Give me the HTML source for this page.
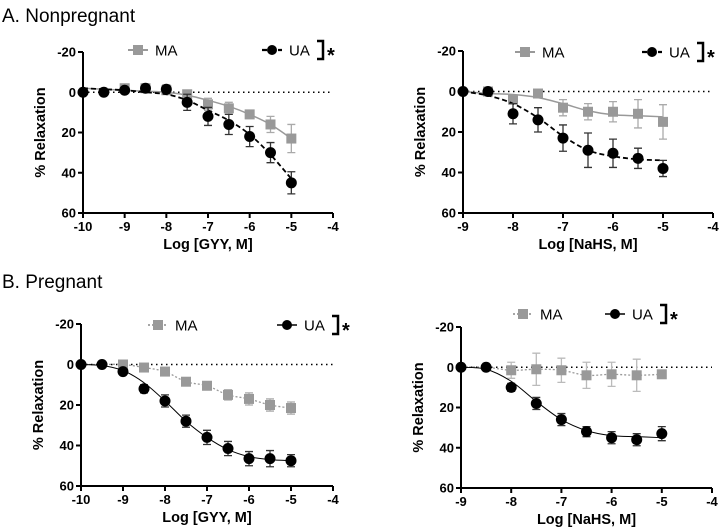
<!DOCTYPE html>
<html><head><meta charset="utf-8">
<style>
body{margin:0;background:#fff;}
svg{display:block;font-family:"Liberation Sans",Arial,sans-serif;}
</style></head>
<body>
<svg id="fig" width="723" height="531" viewBox="0 0 723 531">
<text x="2" y="22" font-size="19">A. Nonpregnant</text>
<text x="2" y="288" font-size="19">B. Pregnant</text>
</svg>
<script>
// Shared data
const xsGYY = [-10,-9.5,-9,-8.5,-8,-7.5,-7,-6.5,-6,-5.5,-5];
const xsNaHS = [-9,-8.5,-8,-7.5,-7,-6.5,-6,-5.5,-5];
const yTicks = [-20,0,20,40,60];
const yTickLabels = ["-20","0","20","40","60"];
// Panel A-left (GYY, nonpregnant)
const aL_MA = [0,0,-2,-2,-1,1,6,8,11,16,23];
const aL_MAerr = [0,0,1,1,2,2,3,3,2,4,7];
const aL_MAfit = [-2,-1.5,-1,-0.5,0,1.5,4,7,11,16,23];
const aL_UA = [0,0,-1,-2,-1.5,5,12,16,22,30,45];
const aL_UAerr = [0,0,1,1,2,4,4.5,5,5,5,5.5];
const aL_UAfit = [-2,-1.5,-1,0,1,4,9,14,21,31,43];
// Panel A-right (NaHS, nonpregnant)
const aR_MA = [0,0,4,1,8,10,10,11,15];
const aR_MAerr = [0,1,2,1,4,4,5,7,8.5];
const aR_MAfit = [0,1,1.5,3,6,9.5,11.5,12,12.5];
const aR_UA = [0,0,11,14,23,29,30.5,33,38];
const aR_UAerr = [0,1,5,6,6.5,8.5,7,5,4];
const aR_UAfit = [0,2,6,13,22,29,32,33.5,34];
// Panel B-left (GYY, pregnant)
const bL_MA = [0,0,0,1.5,3.5,8.5,10.5,15,17,20,21.5];
const bL_MAerr = [0,0,1,1,1,1.5,2,2.5,3,3,3];
const bL_UA = [0,0,3.5,12,18,28,36,41.5,46.5,46.5,47.5];
const bL_UAerr = [0,0,1,2,3,3,3.5,3.5,3.5,4,3];
const bL_UAfit = [0,0.5,3,9,18,28,36,42,45.5,47,47.5];
// Panel B-right (NaHS, pregnant)
const bR_MA = [0,0,1.5,1,1.5,4,3.5,4,3.5];
const bR_MAerr = [0,1,4,8,6,6.5,6,8,1.5];
const bR_UA = [0,0,10,18,26,32,35,36,33];
const bR_UAerr = [0,1,2,3,3,2.5,3,3,3.5];
const bR_UAfit = [0,1,7,17,26,31.5,34,34.5,35];

const NS="http://www.w3.org/2000/svg";
const svg=document.getElementById('fig');
function mk(tag,attrs,parent){const e=document.createElementNS(NS,tag);for(const k in attrs)e.setAttribute(k,attrs[k]);(parent||svg).appendChild(e);return e;}
function smooth(pts){let d="M"+pts[0][0]+","+pts[0][1];for(let i=0;i<pts.length-1;i++){const p0=pts[i-1]||pts[i],p1=pts[i],p2=pts[i+1],p3=pts[i+2]||p2;d+=" C"+(p1[0]+(p2[0]-p0[0])/6)+","+(p1[1]+(p2[1]-p0[1])/6)+" "+(p2[0]-(p3[0]-p1[0])/6)+","+(p2[1]-(p3[1]-p1[1])/6)+" "+p2[0]+","+p2[1];}return d;}

function panel(o){
  const g=mk('g',{});
  
  
  const sx=v=>o.x0+(v-o.xmin)/(o.xmax-o.xmin)*(o.x1-o.x0);
  const sy=v=>o.y0+(v+20)/80*(o.y1-o.y0);
  // zero line
  const z=mk('line',{x1:sx(o.xmin),x2:sx(o.xmax),y1:sy(0),y2:sy(0),stroke:'#000','stroke-width':1.6,'stroke-dasharray':'1.5,3.5'},g);
  
  
  // axes
  const ya=mk('line',{x1:o.x0,x2:o.x0,y1:o.y0,y2:o.y1,stroke:'#000','stroke-width':2},g);
  
  
  const xa=mk('line',{x1:o.x0,x2:o.x1,y1:o.y1,y2:o.y1,stroke:'#000','stroke-width':2},g);
  
  
  yTicks.forEach((t,i)=>{
    mk('line',{x1:o.x0-5,x2:o.x0,y1:sy(t),y2:sy(t),stroke:'#000','stroke-width':2},g);
    const tx=mk('text',{x:o.x0-7,y:sy(t)+4.5,'text-anchor':'end','font-size':13,'font-weight':'bold'},g);
    tx.textContent=yTickLabels[i];
    
    
  });
  for(let v=o.xmin;v<=o.xmax;v++){
    mk('line',{x1:sx(v),x2:sx(v),y1:o.y1,y2:o.y1+5,stroke:'#000','stroke-width':2},g);
    const tx=mk('text',{x:sx(v),y:o.y1+18,'text-anchor':'middle','font-size':13,'font-weight':'bold'},g);
    tx.textContent=String(v);
    
    
  }
  const xt=mk('text',{x:(o.x0+o.x1)/2,y:o.y1+36,'text-anchor':'middle','font-size':14.5,'font-weight':'bold'},g);
  xt.textContent=o.xlabel;
  
  
  const cy=(o.y0+o.y1)/2, cx=o.x0-38;
  const yt=mk('text',{x:cx,y:cy,'text-anchor':'middle','font-size':14.5,'font-weight':'bold',transform:`rotate(-90 ${cx} ${cy})`},g);
  yt.textContent='% Relaxation';
  
  
  // series
  o.series.forEach(s=>{
    if(s.fit){
      const p=mk('path',{d:smooth(o.xs.map((x,i)=>[sx(x),sy(s.fit[i])])),fill:'none',stroke:s.color,'stroke-width':s.lw,'stroke-dasharray':s.dash||''},g);
      
      
    }
    s.vals.forEach((v,i)=>{
      if(s.skip&&s.skip.includes(i))return;
      const x=sx(o.xs[i]),e=s.err[i];
      if(e>0){
        const eb=mk('path',{d:`M${x},${sy(v-e)}V${sy(v+e)}M${x-4},${sy(v-e)}H${x+4}M${x-4},${sy(v+e)}H${x+4}`,stroke:s.errColor,'stroke-width':1.3,fill:'none'},g);
        
        
      }
    });
    s.vals.forEach((v,i)=>{
      if(s.skip&&s.skip.includes(i))return;
      const x=sx(o.xs[i]),y=sy(v);
      let m;
      if(s.marker==='sq') m=mk('rect',{x:x-5,y:y-5,width:10,height:10,fill:s.color},g);
      else m=mk('circle',{cx:x,cy:y,r:5.5,fill:s.color},g);
      
      
    });
  });
  // legend
  o.series.forEach((s,k)=>{
    const lx=o.leg[k], ly=o.legY;
    const ll=mk('line',{x1:lx-10,x2:lx+10,y1:ly,y2:ly,stroke:s.color,'stroke-width':s.lw+0.5,'stroke-dasharray':s.legDash||''},g);
    
    
    let m;
    if(s.marker==='sq') m=mk('rect',{x:lx-5,y:ly-5,width:10,height:10,fill:s.color},g);
    else m=mk('circle',{cx:lx,cy:ly,r:5,fill:s.color},g);
    
    
    const t=mk('text',{x:lx+17,y:ly+5.5,'font-size':15},g);
    t.textContent=s.key.toUpperCase();
    
    
  });
  const bx=o.leg[1]+45, by=o.legY;
  const br=mk('path',{d:`M${bx},${by-9}H${bx+6}V${by+9}H${bx}`,fill:'none',stroke:'#000','stroke-width':2.5},g);
  
  
  const st=mk('text',{x:bx+10,y:by+12,'font-size':20,'font-weight':'bold'},g);
  st.textContent='*';
  
  
}
const G='#999',E='#aaa';
panel({name:'panel-a-gyy',x0:83,x1:333,y0:52,y1:213,xmin:-10,xmax:-4,xs:xsGYY,xlabel:'Log [GYY, M]',legY:50,leg:[138,272],
 series:[{key:'ma',vals:aL_MA,err:aL_MAerr,fit:aL_MAfit,color:G,errColor:E,marker:'sq',lw:1.5,skip:[0,1]},
         {key:'ua',vals:aL_UA,err:aL_UAerr,fit:aL_UAfit,color:'#000',errColor:'#333',marker:'c',lw:1.8,dash:'5,3',legDash:'5,3'}]});
panel({name:'panel-a-nahs',x0:463,x1:713,y0:51,y1:213,xmin:-9,xmax:-4,xs:xsNaHS,xlabel:'Log [NaHS, M]',legY:52,leg:[525,652],
 series:[{key:'ma',vals:aR_MA,err:aR_MAerr,fit:aR_MAfit,color:G,errColor:E,marker:'sq',lw:1.5,skip:[0]},
         {key:'ua',vals:aR_UA,err:aR_UAerr,fit:aR_UAfit,color:'#000',errColor:'#333',marker:'c',lw:1.8,dash:'5,3',legDash:'5,3'}]});
panel({name:'panel-b-gyy',x0:81,x1:333,y0:324,y1:486,xmin:-10,xmax:-4,xs:xsGYY,xlabel:'Log [GYY, M]',legY:325,leg:[158,287],
 series:[{key:'ma',vals:bL_MA,err:bL_MAerr,fit:bL_MA,color:G,errColor:E,marker:'sq',lw:1.3,dash:'2,2',legDash:'2,2',skip:[0,1]},
         {key:'ua',vals:bL_UA,err:bL_UAerr,fit:bL_UAfit,color:'#000',errColor:'#333',marker:'c',lw:1}]});
panel({name:'panel-b-nahs',x0:461,x1:712,y0:327,y1:488,xmin:-9,xmax:-4,xs:xsNaHS,xlabel:'Log [NaHS, M]',legY:314,leg:[523,615],
 series:[{key:'ma',vals:bR_MA,err:bR_MAerr,fit:bR_MA,color:G,errColor:'#bbb',marker:'sq',lw:1.3,dash:'2,2',legDash:'2,2',skip:[0,1]},
         {key:'ua',vals:bR_UA,err:bR_UAerr,fit:bR_UAfit,color:'#000',errColor:'#333',marker:'c',lw:1}]});
</script>
</body></html>
